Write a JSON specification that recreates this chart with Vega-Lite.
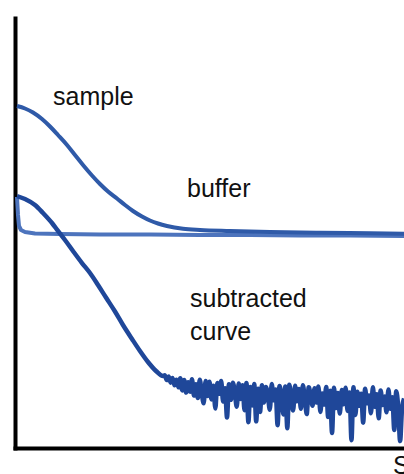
{
  "$schema": "https://vega.github.io/schema/vega-lite/v6.json",
  "width": 389,
  "height": 430,
  "autosize": "none",
  "padding": {"left": 15, "top": 18, "right": 0, "bottom": 26},
  "background": "white",
  "config": {
    "view": {"stroke": null},
    "axis": {"domainColor": "black", "domainWidth": 4, "domainCap": "square", "labels": false, "ticks": false, "grid": false, "title": null}
  },
  "datasets": {
    "curves": [
      {"series": "buffer", "t": 0.51, "v": 58.37},
      {"series": "buffer", "t": 0.77, "v": 54.19},
      {"series": "buffer", "t": 1.03, "v": 51.63},
      {"series": "buffer", "t": 1.54, "v": 50.70},
      {"series": "buffer", "t": 2.57, "v": 50.23},
      {"series": "buffer", "t": 5.14, "v": 49.88},
      {"series": "buffer", "t": 11.57, "v": 49.77},
      {"series": "buffer", "t": 21.85, "v": 49.65},
      {"series": "buffer", "t": 34.70, "v": 49.65},
      {"series": "buffer", "t": 47.56, "v": 49.53},
      {"series": "buffer", "t": 60.41, "v": 49.53},
      {"series": "buffer", "t": 73.26, "v": 49.42},
      {"series": "buffer", "t": 86.12, "v": 49.42},
      {"series": "buffer", "t": 100, "v": 49.30},

      {"series": "sample", "t": 0.51, "v": 79.53},
      {"series": "sample", "t": 2.57, "v": 78.95},
      {"series": "sample", "t": 4.63, "v": 78.02},
      {"series": "sample", "t": 6.94, "v": 76.51},
      {"series": "sample", "t": 9.00, "v": 74.77},
      {"series": "sample", "t": 11.05, "v": 72.79},
      {"series": "sample", "t": 13.37, "v": 70.47},
      {"series": "sample", "t": 15.42, "v": 68.14},
      {"series": "sample", "t": 17.48, "v": 65.81},
      {"series": "sample", "t": 19.79, "v": 63.37},
      {"series": "sample", "t": 21.85, "v": 61.40},
      {"series": "sample", "t": 23.91, "v": 59.65},
      {"series": "sample", "t": 26.22, "v": 58.02},
      {"series": "sample", "t": 28.28, "v": 56.51},
      {"series": "sample", "t": 30.33, "v": 55.12},
      {"series": "sample", "t": 32.65, "v": 53.84},
      {"series": "sample", "t": 34.70, "v": 52.91},
      {"series": "sample", "t": 36.76, "v": 52.21},
      {"series": "sample", "t": 39.07, "v": 51.63},
      {"series": "sample", "t": 43.19, "v": 50.98},
      {"series": "sample", "t": 47.56, "v": 50.70},
      {"series": "sample", "t": 55.27, "v": 50.47},
      {"series": "sample", "t": 65.55, "v": 50.23},
      {"series": "sample", "t": 78.41, "v": 50.05},
      {"series": "sample", "t": 91.26, "v": 49.93},
      {"series": "sample", "t": 100, "v": 49.84},

      {"series": "subtracted", "t": 0.51, "v": 58.60},
      {"series": "subtracted", "t": 2.57, "v": 57.91},
      {"series": "subtracted", "t": 5.14, "v": 56.51},
      {"series": "subtracted", "t": 7.20, "v": 54.65},
      {"series": "subtracted", "t": 9.51, "v": 52.33},
      {"series": "subtracted", "t": 11.05, "v": 50.47},
      {"series": "subtracted", "t": 12.85, "v": 48.37},
      {"series": "subtracted", "t": 14.91, "v": 45.81},
      {"series": "subtracted", "t": 17.22, "v": 43.02},
      {"series": "subtracted", "t": 19.28, "v": 40.70},
      {"series": "subtracted", "t": 21.34, "v": 37.91},
      {"series": "subtracted", "t": 23.39, "v": 35.00},
      {"series": "subtracted", "t": 25.71, "v": 31.74},
      {"series": "subtracted", "t": 27.76, "v": 28.60},
      {"series": "subtracted", "t": 30.08, "v": 25.35},
      {"series": "subtracted", "t": 32.13, "v": 22.56},
      {"series": "subtracted", "t": 34.19, "v": 20.00},
      {"series": "subtracted", "t": 36.25, "v": 17.91},
      {"series": "subtracted", "t": 38.05, "v": 16.74},
      {"series": "subtracted", "t": 38.5, "v": 16.9},
      {"series": "subtracted", "t": 39, "v": 15.8},
      {"series": "subtracted", "t": 39.5, "v": 16.6},
      {"series": "subtracted", "t": 40, "v": 15.2},
      {"series": "subtracted", "t": 40.5, "v": 16.3},
      {"series": "subtracted", "t": 41, "v": 14.6},
      {"series": "subtracted", "t": 41.5, "v": 15.9},
      {"series": "subtracted", "t": 42, "v": 14.1},
      {"series": "subtracted", "t": 42.5, "v": 16.2},
      {"series": "subtracted", "t": 43, "v": 13.4},
      {"series": "subtracted", "t": 43.5, "v": 15.8},
      {"series": "subtracted", "t": 44, "v": 12.9},
      {"series": "subtracted", "t": 44.5, "v": 15.3},
      {"series": "subtracted", "t": 45, "v": 13.1},
      {"series": "subtracted", "t": 45.5, "v": 16.0},
      {"series": "subtracted", "t": 46, "v": 12.2},
      {"series": "subtracted", "t": 46.5, "v": 14.8},
      {"series": "subtracted", "t": 47, "v": 11.6},
      {"series": "subtracted", "t": 47.5, "v": 15.9},
      {"series": "subtracted", "t": 48, "v": 12.8},
      {"series": "subtracted", "t": 48.5, "v": 10.4},
      {"series": "subtracted", "t": 49, "v": 15.6},
      {"series": "subtracted", "t": 49.5, "v": 12.1},
      {"series": "subtracted", "t": 50, "v": 15.4},
      {"series": "subtracted", "t": 50.5, "v": 11.3},
      {"series": "subtracted", "t": 51, "v": 14.5},
      {"series": "subtracted", "t": 51.5, "v": 9.2},
      {"series": "subtracted", "t": 52, "v": 15.1},
      {"series": "subtracted", "t": 52.5, "v": 12.6},
      {"series": "subtracted", "t": 53, "v": 15.6},
      {"series": "subtracted", "t": 53.5, "v": 10.8},
      {"series": "subtracted", "t": 54, "v": 13.9},
      {"series": "subtracted", "t": 54.5, "v": 7.1},
      {"series": "subtracted", "t": 55, "v": 14.8},
      {"series": "subtracted", "t": 55.5, "v": 11.2},
      {"series": "subtracted", "t": 56, "v": 15.2},
      {"series": "subtracted", "t": 56.5, "v": 12.9},
      {"series": "subtracted", "t": 57, "v": 9.6},
      {"series": "subtracted", "t": 57.5, "v": 15.0},
      {"series": "subtracted", "t": 58, "v": 11.4},
      {"series": "subtracted", "t": 58.5, "v": 14.6},
      {"series": "subtracted", "t": 59, "v": 8.8},
      {"series": "subtracted", "t": 59.5, "v": 15.1},
      {"series": "subtracted", "t": 60, "v": 6.0},
      {"series": "subtracted", "t": 60.5, "v": 14.2},
      {"series": "subtracted", "t": 61, "v": 9.9},
      {"series": "subtracted", "t": 61.5, "v": 14.9},
      {"series": "subtracted", "t": 62, "v": 6.2},
      {"series": "subtracted", "t": 62.5, "v": 13.8},
      {"series": "subtracted", "t": 63, "v": 8.4},
      {"series": "subtracted", "t": 63.5, "v": 14.6},
      {"series": "subtracted", "t": 64, "v": 10.6},
      {"series": "subtracted", "t": 64.5, "v": 14.2},
      {"series": "subtracted", "t": 65, "v": 12.3},
      {"series": "subtracted", "t": 65.5, "v": 8.9},
      {"series": "subtracted", "t": 66, "v": 14.9},
      {"series": "subtracted", "t": 66.5, "v": 11.1},
      {"series": "subtracted", "t": 67, "v": 13.6},
      {"series": "subtracted", "t": 67.5, "v": 5.3},
      {"series": "subtracted", "t": 68, "v": 14.4},
      {"series": "subtracted", "t": 68.5, "v": 12.0},
      {"series": "subtracted", "t": 69, "v": 7.8},
      {"series": "subtracted", "t": 69.5, "v": 14.3},
      {"series": "subtracted", "t": 70, "v": 4.6},
      {"series": "subtracted", "t": 70.5, "v": 14.7},
      {"series": "subtracted", "t": 71, "v": 11.8},
      {"series": "subtracted", "t": 71.5, "v": 8.7},
      {"series": "subtracted", "t": 72, "v": 14.5},
      {"series": "subtracted", "t": 72.5, "v": 10.9},
      {"series": "subtracted", "t": 73, "v": 13.7},
      {"series": "subtracted", "t": 73.5, "v": 9.1},
      {"series": "subtracted", "t": 74, "v": 14.6},
      {"series": "subtracted", "t": 74.5, "v": 11.5},
      {"series": "subtracted", "t": 75, "v": 7.9},
      {"series": "subtracted", "t": 75.5, "v": 14.1},
      {"series": "subtracted", "t": 76, "v": 12.4},
      {"series": "subtracted", "t": 76.5, "v": 9.8},
      {"series": "subtracted", "t": 77, "v": 13.9},
      {"series": "subtracted", "t": 77.5, "v": 10.6},
      {"series": "subtracted", "t": 78, "v": 14.3},
      {"series": "subtracted", "t": 78.5, "v": 8.4},
      {"series": "subtracted", "t": 79, "v": 12.7},
      {"series": "subtracted", "t": 79.5, "v": 10.1},
      {"series": "subtracted", "t": 80, "v": 14.2},
      {"series": "subtracted", "t": 80.5, "v": 7.2},
      {"series": "subtracted", "t": 81, "v": 13.3},
      {"series": "subtracted", "t": 81.5, "v": 3.5},
      {"series": "subtracted", "t": 82, "v": 14.0},
      {"series": "subtracted", "t": 82.5, "v": 9.3},
      {"series": "subtracted", "t": 83, "v": 12.8},
      {"series": "subtracted", "t": 83.5, "v": 8.0},
      {"series": "subtracted", "t": 84, "v": 13.5},
      {"series": "subtracted", "t": 84.5, "v": 10.2},
      {"series": "subtracted", "t": 85, "v": 14.0},
      {"series": "subtracted", "t": 85.5, "v": 8.6},
      {"series": "subtracted", "t": 86, "v": 12.9},
      {"series": "subtracted", "t": 86.5, "v": 1.8},
      {"series": "subtracted", "t": 87, "v": 14.1},
      {"series": "subtracted", "t": 87.5, "v": 7.7},
      {"series": "subtracted", "t": 88, "v": 13.1},
      {"series": "subtracted", "t": 88.5, "v": 9.8},
      {"series": "subtracted", "t": 89, "v": 12.6},
      {"series": "subtracted", "t": 89.5, "v": 5.9},
      {"series": "subtracted", "t": 90, "v": 13.8},
      {"series": "subtracted", "t": 90.5, "v": 10.4},
      {"series": "subtracted", "t": 91, "v": 12.2},
      {"series": "subtracted", "t": 91.5, "v": 8.1},
      {"series": "subtracted", "t": 92, "v": 14.1},
      {"series": "subtracted", "t": 92.5, "v": 9.6},
      {"series": "subtracted", "t": 93, "v": 12.5},
      {"series": "subtracted", "t": 93.5, "v": 6.9},
      {"series": "subtracted", "t": 94, "v": 13.4},
      {"series": "subtracted", "t": 94.5, "v": 10.0},
      {"series": "subtracted", "t": 95, "v": 12.0},
      {"series": "subtracted", "t": 95.5, "v": 8.3},
      {"series": "subtracted", "t": 96, "v": 13.6},
      {"series": "subtracted", "t": 96.5, "v": 9.1},
      {"series": "subtracted", "t": 97, "v": 11.8},
      {"series": "subtracted", "t": 97.5, "v": 4.2},
      {"series": "subtracted", "t": 98, "v": 13.2},
      {"series": "subtracted", "t": 98.5, "v": 9.7},
      {"series": "subtracted", "t": 99, "v": 1.6},
      {"series": "subtracted", "t": 99.5, "v": 9.2},
      {"series": "subtracted", "t": 100, "v": 11.5}
    ],
    "labels": [
      {"label": "sample", "t": 9.77, "v": 79.77},
      {"label": "buffer", "t": 44.22, "v": 58.37},
      {"label": "subtracted", "t": 44.99, "v": 32.79},
      {"label": "curve", "t": 44.99, "v": 25.12},
      {"label": "S", "t": 97.17, "v": -6.05}
    ]
  },
  "layer": [
    {
      "data": {"name": "curves"},
      "transform": [{"filter": "datum.series === 'buffer'"}],
      "mark": {"type": "line", "color": "#4d74bd", "strokeWidth": 4, "strokeJoin": "round"},
      "encoding": {
        "x": {"field": "t", "type": "quantitative", "scale": {"domain": [0, 100], "nice": false, "zero": false}, "axis": {"orient": "bottom"}},
        "y": {"field": "v", "type": "quantitative", "scale": {"domain": [0, 100], "nice": false, "zero": false}, "axis": {"orient": "left"}},
        "order": {"field": "t", "type": "quantitative"}
      }
    },
    {
      "data": {"name": "curves"},
      "transform": [{"filter": "datum.series === 'sample'"}],
      "mark": {"type": "line", "color": "#2f5aa8", "strokeWidth": 4, "interpolate": "monotone"},
      "encoding": {
        "x": {"field": "t", "type": "quantitative"},
        "y": {"field": "v", "type": "quantitative"},
        "order": {"field": "t", "type": "quantitative"}
      }
    },
    {
      "data": {"name": "curves"},
      "transform": [{"filter": "datum.series === 'subtracted'"}],
      "mark": {"type": "line", "color": "#1f4799", "strokeWidth": 4.5, "strokeJoin": "round", "interpolate": "monotone"},
      "encoding": {
        "x": {"field": "t", "type": "quantitative"},
        "y": {"field": "v", "type": "quantitative"},
        "order": {"field": "t", "type": "quantitative"}
      }
    },
    {
      "data": {"name": "labels"},
      "mark": {"type": "text", "align": "left", "baseline": "alphabetic", "font": "Liberation Sans", "fontSize": 25, "color": "#111111"},
      "encoding": {
        "x": {"field": "t", "type": "quantitative"},
        "y": {"field": "v", "type": "quantitative"},
        "text": {"field": "label", "type": "nominal"}
      }
    }
  ]
}
